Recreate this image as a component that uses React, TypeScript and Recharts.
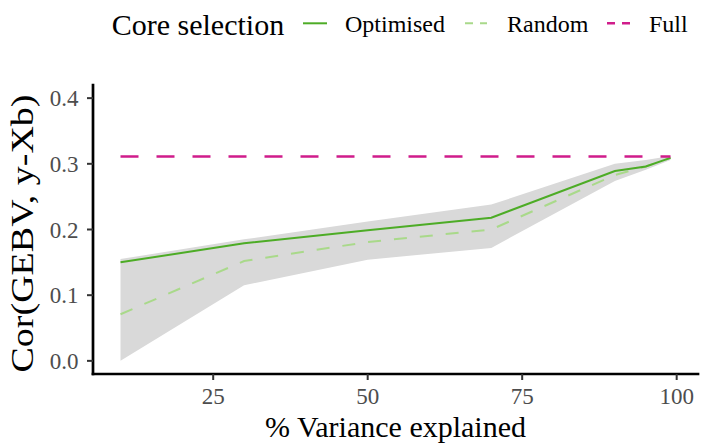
import React from 'react';
import { ComposedChart, Line, Area, XAxis, YAxis } from 'recharts';

// % variance explained (x) values
const variance = [10, 30, 50, 70, 90, 95, 99];
// Series values
const optimised = [0.15, 0.179, 0.199, 0.218, 0.289, 0.296, 0.309];
const random = [0.071, 0.152, 0.181, 0.2, 0.283, 0.296, 0.309];
const bandLower = [0.0, 0.115, 0.154, 0.172, 0.274, 0.291, 0.306];
const bandUpper = [0.155, 0.185, 0.212, 0.238, 0.3, 0.306, 0.312];
const full = [0.311, 0.311, 0.311, 0.311, 0.311, 0.311, 0.311];
// Ticks
const xTicks = [25, 50, 75, 100];
const yTicks = [0, 0.1, 0.2, 0.3, 0.4];
// Legend / titles
const legendTitle = 'Core selection';
const legendLabels = ['Optimised', 'Random', 'Full'];
const xTitle = '% Variance explained';
const yTitle = 'Cor(GEBV, y-Xb)';

const C_OPT = '#4dac26';
const C_RND = '#a9d98a';
const C_FULL = '#d01c8b';
const FONT = "'Liberation Serif'";
const fontStyle = { fontFamily: FONT };

const data = variance.map((v, i) => ({
  v,
  opt: optimised[i],
  rnd: random[i],
  band: [bandLower[i], bandUpper[i]],
  full: full[i],
}));

const XTick = (props: any) => {
  const { x, y, payload } = props;
  return (
    <text x={x} y={y + 24} textAnchor="middle" fontSize={23} fill="#4d4d4d" style={fontStyle}>
      {String(payload.value)}
    </text>
  );
};

const YTick = (props: any) => {
  const { x, y, payload } = props;
  return (
    <text x={x - 8.5} y={y + 8} textAnchor="end" fontSize={23} fill="#4d4d4d" style={fontStyle}>
      {Number(payload.value).toFixed(1)}
    </text>
  );
};

const YTitle = (props: any) => {
  const vb = props.viewBox || { x: 0, y: 85, width: 93, height: 289 };
  const cx = vb.x + 33;
  const cy = vb.y + vb.height / 2 + 4;
  return (
    <text
      transform={`translate(${cx}, ${cy}) rotate(-90)`}
      textAnchor="middle"
      fontSize={31}
      fill="#000"
      style={fontStyle}
      textLength={278}
      lengthAdjust="spacingAndGlyphs"
    >
      {yTitle}
    </text>
  );
};

const XTitle = (props: any) => {
  const vb = props.viewBox || { x: 93, y: 374, width: 605, height: 70 };
  return (
    <text x={vb.x + vb.width / 2} y={vb.y + 63} textAnchor="middle" fontSize={30} fill="#000" style={fontStyle}>
      {xTitle}
    </text>
  );
};

const LegendOverlay = () => (
  <svg width={703} height={60} style={{ position: 'absolute', left: 0, top: 0 }}>
    <text x={111.7} y={35} fontSize={30} style={fontStyle} fill="#000">
      {legendTitle}
    </text>
    <line x1={303} x2={327} y1={23.3} y2={23.3} stroke={C_OPT} strokeWidth={2} />
    <text x={345} y={32.3} fontSize={24} style={fontStyle} fill="#000">
      {legendLabels[0]}
    </text>
    <line x1={465} x2={487} y1={23.3} y2={23.3} stroke={C_RND} strokeWidth={2} strokeDasharray="8 7" />
    <text x={507} y={32.3} fontSize={24} style={fontStyle} fill="#000">
      {legendLabels[1]}
    </text>
    <line x1={607} x2={630} y1={23.3} y2={23.3} stroke={C_FULL} strokeWidth={2.5} strokeDasharray="8 7" />
    <text x={649} y={32.3} fontSize={24} style={fontStyle} fill="#000">
      {legendLabels[2]}
    </text>
  </svg>
);

export default function App() {
  return (
    <div style={{ position: 'absolute', left: 0, top: 0, width: 703, height: 444, background: '#fff' }}>
      <ComposedChart
        width={703}
        height={444}
        data={data}
        margin={{ top: 85, right: 5, bottom: 0, left: 0 }}
      >
        <XAxis
          dataKey="v"
          type="number"
          domain={[5.55, 103.45]}
          ticks={xTicks}
          interval={0}
          allowDataOverflow
          height={70}
          tickSize={6}
          tickMargin={0}
          axisLine={{ stroke: '#000', strokeWidth: 2.7, strokeLinecap: 'square' }}
          tickLine={{ stroke: '#333', strokeWidth: 2 }}
          tick={<XTick />}
          label={<XTitle />}
        />
        <YAxis
          type="number"
          domain={[-0.02, 0.42]}
          ticks={yTicks}
          interval={0}
          allowDataOverflow
          width={93}
          tickSize={6}
          tickMargin={0}
          axisLine={{ stroke: '#000', strokeWidth: 2.7, strokeLinecap: 'square' }}
          tickLine={{ stroke: '#333', strokeWidth: 2 }}
          tick={<YTick />}
          label={<YTitle />}
        />
        <Area
          dataKey="band"
          type="linear"
          stroke="none"
          fill="#d9d9d9"
          fillOpacity={1}
          isAnimationActive={false}
          activeDot={false}
        />
        <Line
          dataKey="rnd"
          type="linear"
          stroke={C_RND}
          strokeWidth={2}
          strokeDasharray="13 13"
          dot={false}
          activeDot={false}
          isAnimationActive={false}
        />
        <Line
          dataKey="opt"
          type="linear"
          stroke={C_OPT}
          strokeWidth={2}
          dot={false}
          activeDot={false}
          isAnimationActive={false}
        />
        <Line
          dataKey="full"
          type="linear"
          stroke={C_FULL}
          strokeWidth={2.5}
          strokeDasharray="18 18"
          dot={false}
          activeDot={false}
          isAnimationActive={false}
        />
      </ComposedChart>
      <LegendOverlay />
    </div>
  );
}
